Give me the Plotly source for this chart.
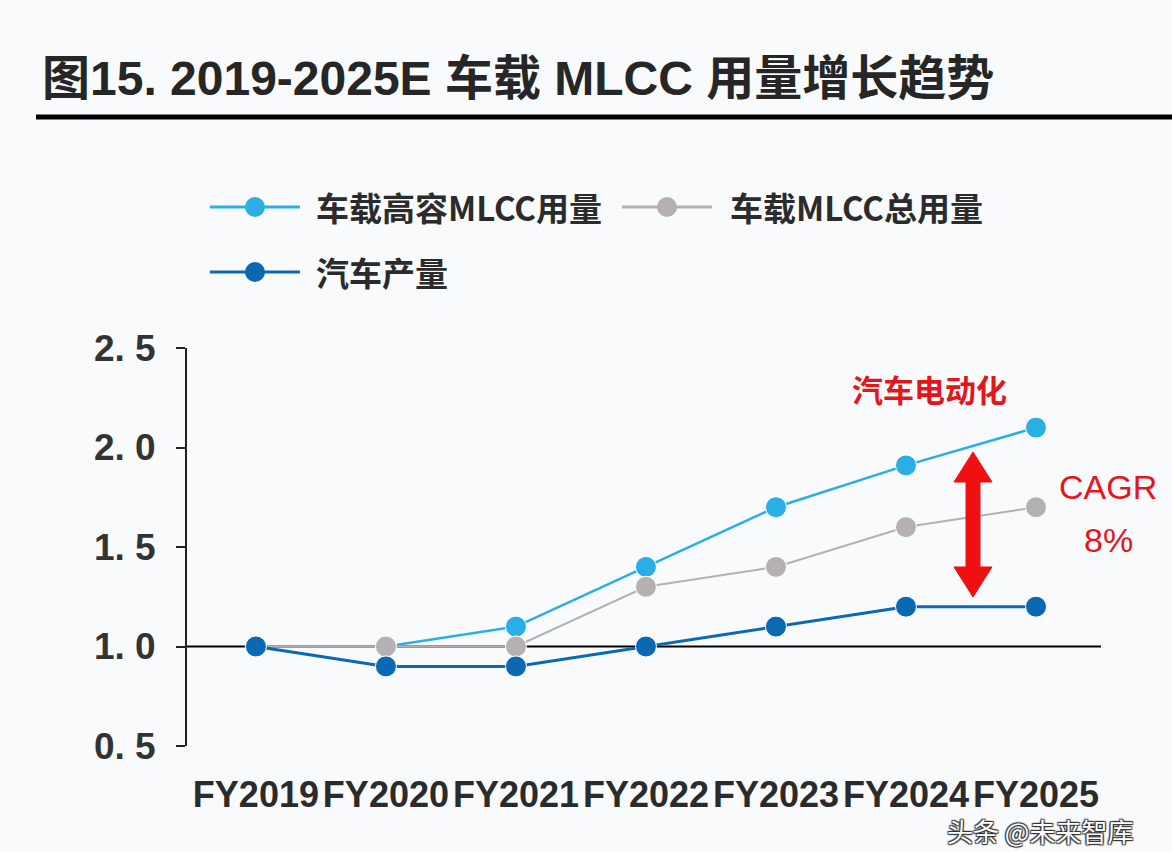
import plotly.graph_objects as go

categories = ["FY2019", "FY2020", "FY2021", "FY2022", "FY2023", "FY2024", "FY2025"]
high_cap_mlcc = [1.0, 1.0, 1.1, 1.4, 1.7, 1.91, 2.1]
total_mlcc = [1.0, 1.0, 1.0, 1.3, 1.4, 1.6, 1.7]
car_output = [1.0, 0.9, 0.9, 1.0, 1.1, 1.2, 1.2]
y_tick_vals = [0.5, 1.0, 1.5, 2.0, 2.5]
y_tick_text = ["0. 5", "1. 0", "1. 5", "2. 0", "2. 5"]
series_names = ["车载高容MLCC用量", "车载MLCC总用量", "汽车产量"]

C_LIGHT = "#2AAFE5"
C_GRAY = "#B5B0B1"
C_DARK = "#0B69B3"
RED = "#E3161C"

W, H = 1172, 852
L, R, T, B = 187, 71, 348, 106
PW, PH = W - L - R, H - T - B


def px(x):
    return (x - L) / PW


def py(y):
    return (H - B - y) / PH


CJK = "Noto Sans CJK SC"
LAT = "Liberation Sans"

fig = go.Figure()
for name, vals, col, lw in [
    (series_names[0], high_cap_mlcc, C_LIGHT, 2.5),
    (series_names[1], total_mlcc, C_GRAY, 2),
    (series_names[2], car_output, C_DARK, 3),
]:
    fig.add_trace(go.Scatter(
        x=categories, y=vals, name=name, mode="lines+markers",
        line=dict(color=col, width=lw),
        marker=dict(color=col, size=21, line=dict(color="white", width=1)),
        showlegend=False, cliponaxis=False,
    ))

shapes = []
shapes.append(dict(type="line", xref="paper", yref="y", x0=0, x1=1, y0=1, y1=1,
                   line=dict(color="black", width=2), layer="below"))
shapes.append(dict(type="line", xref="paper", yref="paper", x0=px(36), x1=px(1172),
                   y0=py(117), y1=py(117), line=dict(color="black", width=5)))

annotations = []
annotations.append(dict(text="<b>图15. 2019-2025E 车载 MLCC 用量增长趋势</b>", xref="paper", yref="paper",
                        x=px(40), y=py(78), xanchor="left", yanchor="middle", showarrow=False,
                        font=dict(family=f"{LAT}, {CJK}", size=48, color="#262626")))

legend_items = [
    (series_names[0], C_LIGHT, 210, 300, 207, 314),
    (series_names[1], C_GRAY, 622, 712, 207, 728),
    (series_names[2], C_DARK, 210, 300, 272, 314),
]
for name, col, x0, x1, yy, tx in legend_items:
    shapes.append(dict(type="line", xref="paper", yref="paper", x0=px(x0), x1=px(x1),
                       y0=py(yy), y1=py(yy), line=dict(color=col, width=3)))
    shapes.append(dict(type="circle", xref="paper", yref="paper", xsizemode="pixel", ysizemode="pixel",
                       xanchor=px((x0 + x1) / 2), yanchor=py(yy), x0=-10, x1=10, y0=-10, y1=10,
                       fillcolor=col, line=dict(color=col, width=0)))
    annotations.append(dict(text=f"<b>{name}</b>", xref="paper", yref="paper", x=px(tx), y=py(yy),
                            xanchor="left", yanchor="middle", showarrow=False,
                            font=dict(family=CJK, size=33, color="#2b2b2b")))

annotations.append(dict(text="<b>汽车电动化</b>", xref="paper", yref="paper", x=px(929), y=py(388),
                        xanchor="center", yanchor="middle", showarrow=False,
                        font=dict(family=CJK, size=31, color=RED)))
annotations.append(dict(text="CAGR", xref="paper", yref="paper", x=px(1108), y=py(487),
                        xanchor="center", yanchor="middle", showarrow=False,
                        font=dict(family=LAT, size=34, color=RED)))
annotations.append(dict(text="8%", xref="paper", yref="paper", x=px(1108), y=py(540),
                        xanchor="center", yanchor="middle", showarrow=False,
                        font=dict(family=LAT, size=34, color=RED)))

ax, top, bot = 973, 452, 597
hw, sw, hl = 19, 7, 30
pts = [(ax, top), (ax + hw, top + hl), (ax + sw, top + hl), (ax + sw, bot - hl), (ax + hw, bot - hl),
       (ax, bot), (ax - hw, bot - hl), (ax - sw, bot - hl), (ax - sw, top + hl), (ax - hw, top + hl)]
path = "M " + " L ".join(f"{px(x):.5f},{py(y):.5f}" for x, y in pts) + " Z"
shapes.append(dict(type="path", xref="paper", yref="paper", path=path,
                   fillcolor="#F01010", line=dict(color="#F01010", width=1)))

annotations.append(dict(text="头条 @未来智库", xref="paper", yref="paper", x=px(1040), y=py(830),
                        xanchor="center", yanchor="middle", showarrow=False,
                        font=dict(family=CJK, size=26, color="white",
                                  shadow="1px 1px 1px #333, -1px -1px 1px #333, 1px -1px 1px #333, -1px 1px 1px #333")))

fig.update_layout(
    width=W, height=H, autosize=False,
    margin=dict(l=L, r=R, t=T, b=B, pad=0),
    paper_bgcolor="#F9FAFC", plot_bgcolor="#F9FAFC",
    shapes=shapes, annotations=annotations,
    xaxis=dict(type="category", range=[-0.53, 6.5], showline=False, showgrid=False, zeroline=False,
               ticks="", tickangle=0, automargin=False, ticklabelstandoff=24,
               tickfont=dict(family=LAT, size=36, color="#2b2b2b", weight="bold")),
    yaxis=dict(range=[0.5, 2.5], tickvals=y_tick_vals, ticktext=y_tick_text, showgrid=False, zeroline=False,
               showline=True, linecolor="#222", linewidth=2, ticks="outside", ticklen=9, tickwidth=2,
               tickcolor="#222", automargin=False, ticklabelstandoff=13,
               tickfont=dict(family=LAT, size=37, color="#333", weight="bold")),
)

fig.write_html("out.html", post_script="document.body.style.margin='0';",
               config={"displayModeBar": False})
